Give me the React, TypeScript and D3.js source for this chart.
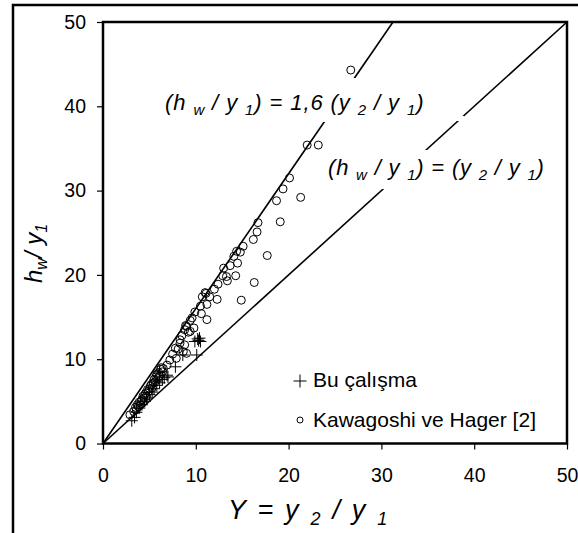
import React, { useEffect, useRef } from "react";
import * as d3 from "d3";

// Bu çalışma (plus markers)
const buCalisma: [number, number][] = [
  [3.1, 2.7], [3.4, 3.1], [3.6, 3.7], [3.9, 4.2], [4.2, 4.6], [4.5, 5.0],
  [4.7, 5.4], [5.0, 5.8], [5.3, 6.1], [5.5, 6.5], [5.8, 6.9], [6.1, 7.2],
  [6.4, 7.6], [6.1, 8.5], [6.9, 8.1], [7.0, 7.9], [7.8, 9.1], [10.1, 10.5],
  [10.3, 12.2], [10.5, 12.1], [10.4, 12.5], [10.2, 12.4], [9.9, 12.1],
  [8.6, 10.5], [5.7, 7.4], [6.6, 7.8]
];

// Kawagoshi ve Hager [2] (circle markers)
const kawagoshi: [number, number][] = [
  [26.7, 44.3], [22.0, 35.4], [23.2, 35.4], [20.1, 31.5], [19.4, 30.2],
  [18.7, 28.8], [21.3, 29.2], [16.7, 26.2], [19.1, 26.3], [16.6, 25.1],
  [16.2, 24.2], [15.1, 23.4], [14.4, 22.8], [14.8, 22.7], [14.1, 22.2],
  [17.7, 22.3], [14.5, 21.4], [13.7, 21.1], [13.0, 20.8], [14.3, 19.9],
  [13.3, 19.8], [13.4, 19.3], [16.3, 19.1], [12.4, 18.9], [12.0, 18.3],
  [14.9, 17.0], [10.7, 17.4], [11.1, 17.8], [11.5, 17.4], [12.3, 17.1],
  [11.2, 16.5], [10.5, 16.3], [9.9, 15.6], [10.6, 15.4], [11.2, 14.7],
  [9.6, 14.9], [8.9, 14.0], [9.8, 13.7], [9.2, 13.2], [8.5, 12.8],
  [8.3, 11.9], [7.8, 11.3], [8.1, 11.2], [7.5, 10.6], [8.65, 10.9],
  [7.9, 10.1], [7.2, 9.9], [6.9, 9.3], [6.5, 8.9], [8.8, 11.7],
  [9.0, 10.7], [9.4, 13.3], [9.4, 14.6], [9.0, 13.9], [8.8, 13.5],
  [12.9, 19.9], [11.0, 17.9], [8.3, 12.3],
  [2.9, 3.4], [3.3, 3.8], [3.5, 4.3], [3.7, 4.6], [3.9, 4.9], [4.0, 4.6],
  [4.2, 5.2], [4.3, 5.6], [4.5, 5.8], [4.6, 6.0], [4.8, 6.4], [4.9, 6.2],
  [5.1, 6.8], [5.2, 7.0], [5.4, 7.2], [5.5, 7.6], [5.7, 7.9], [5.8, 8.2],
  [6.0, 8.4], [6.2, 8.8], [6.3, 9.0], [4.1, 5.0], [4.4, 5.4], [4.7, 5.6],
  [5.0, 6.5], [5.3, 6.6], [5.6, 7.3], [5.9, 7.7], [6.1, 8.0], [6.4, 8.5],
  [3.6, 4.0], [3.8, 4.4]
];

const tickValues = [0, 10, 20, 30, 40, 50];
const slopes = [1.6, 1];

const FONT = "'Liberation Sans', Arial, sans-serif";

type Seg = { t: string; sub?: boolean };

function richText(sel: any, segs: Seg[], size: number, subSize: number) {
  let down = false;
  segs.forEach((s) => {
    const ts = sel.append("tspan").text(s.t);
    if (s.sub && !down) {
      ts.attr("dy", size * 0.22).attr("font-size", subSize);
      down = true;
    } else if (s.sub) {
      ts.attr("font-size", subSize);
    } else if (!s.sub && down) {
      ts.attr("dy", -size * 0.22);
      down = false;
    }
  });
}

export default function App() {
  const ref = useRef<SVGSVGElement>(null);

  useEffect(() => {
    document.body.style.margin = "0";
    const svg = d3.select(ref.current);
    svg.selectAll("*").remove();

    const left = 103, right = 567, top = 22, bottom = 443.5;
    const x = d3.scaleLinear().domain([0, 50]).range([left, right]);
    const y = d3.scaleLinear().domain([0, 50]).range([bottom, top]);

    svg.append("rect").attr("width", 578).attr("height", 533).attr("fill", "#fff");

    // outer frame (right and bottom fall outside the picture)
    svg.append("path")
      .attr("d", "M13,533 L13,5 L578,5")
      .attr("fill", "none")
      .attr("stroke", "#000")
      .attr("stroke-width", 2.5);

    // reference lines
    const g = svg.append("g");
    slopes.forEach((k) => {
      const xEnd = Math.min(50, 50 / k);
      g.append("line")
        .attr("x1", x(0)).attr("y1", y(0))
        .attr("x2", x(xEnd)).attr("y2", y(xEnd * k))
        .attr("stroke", "#000")
        .attr("stroke-width", 1.6);
    });

    // white boxes behind the equations break the lines
    g.append("rect").attr("x", 160).attr("y", 78).attr("width", 270).attr("height", 44).attr("fill", "#fff");
    g.append("rect").attr("x", 320).attr("y", 150).attr("width", 232).attr("height", 39).attr("fill", "#fff");
    g.append("rect").attr("x", 456).attr("y", 116).attr("width", 8).attr("height", 5).attr("fill", "#fff");

    const eq1 = g.append("text")
      .attr("x", 165).attr("y", 110).attr("letter-spacing", 0.9)
      .attr("font-family", FONT).attr("font-size", 22).attr("font-style", "italic");
    richText(eq1, [
      { t: "(h " }, { t: "w", sub: true }, { t: " / y " }, { t: "1", sub: true },
      { t: ") = 1,6 (y " }, { t: "2", sub: true }, { t: " / y " }, { t: "1", sub: true }, { t: ")" }
    ], 22, 15);

    const eq2 = g.append("text")
      .attr("x", 328).attr("y", 175).attr("letter-spacing", 0.8)
      .attr("font-family", FONT).attr("font-size", 22).attr("font-style", "italic");
    richText(eq2, [
      { t: "(h " }, { t: "w", sub: true }, { t: " / y " }, { t: "1", sub: true },
      { t: ") = (y " }, { t: "2", sub: true }, { t: " / y " }, { t: "1", sub: true }, { t: ")" }
    ], 22, 15);

    // points
    g.selectAll("circle.k")
      .data(kawagoshi)
      .enter()
      .append("circle")
      .attr("cx", (d) => x(d[0]))
      .attr("cy", (d) => y(d[1]))
      .attr("r", 4)
      .attr("fill", "none")
      .attr("stroke", "#000")
      .attr("stroke-width", 1);

    g.selectAll("path.p")
      .data(buCalisma)
      .enter()
      .append("path")
      .attr("d", "M-6,0H6M0,-6V6")
      .attr("transform", (d) => "translate(" + x(d[0]) + "," + y(d[1]) + ")")
      .attr("stroke", "#000")
      .attr("stroke-width", 1);

    // axes
    const yAxis = d3.axisLeft(y).tickValues(tickValues).tickSize(6).tickPadding(11).tickFormat(d3.format("d"));
    const xAxis = d3.axisBottom(x).tickValues(tickValues).tickSize(6).tickPadding(18.5).tickFormat(d3.format("d"));

    const ya = svg.append("g").attr("transform", "translate(" + left + ",0)").call(yAxis);
    const xa = svg.append("g").attr("transform", "translate(0," + bottom + ")").call(xAxis);
    [ya, xa].forEach((a) => {
      a.select(".domain").remove();
      a.selectAll("line").attr("stroke", "#000").attr("stroke-width", 1.2);
      a.selectAll("text").attr("font-family", FONT).attr("font-size", 19.5).attr("fill", "#000");
    });

    // plot frame
    svg.append("rect")
      .attr("x", left).attr("y", top)
      .attr("width", right - left).attr("height", bottom - top)
      .attr("fill", "none")
      .attr("stroke", "#000")
      .attr("stroke-width", 2.5);

    // legend
    const lg = svg.append("g").attr("font-family", FONT).attr("font-size", 21);
    lg.append("path")
      .attr("d", "M-6.5,0H6.5M0,-6.5V6.5")
      .attr("transform", "translate(300,381)")
      .attr("stroke", "#000").attr("stroke-width", 1);
    lg.append("text").attr("x", 313).attr("y", 387).text("Bu çalışma");
    lg.append("circle").attr("cx", 300).attr("cy", 420).attr("r", 3)
      .attr("fill", "none").attr("stroke", "#000").attr("stroke-width", 1);
    lg.append("text").attr("x", 313).attr("y", 427).text("Kawagoshi ve Hager [2]");

    // axis titles
    const xt = svg.append("text")
      .attr("x", 228).attr("y", 519).attr("letter-spacing", 2.2)
      .attr("font-family", FONT).attr("font-size", 27).attr("font-style", "italic");
    richText(xt, [{ t: "Y = y " }, { t: "2", sub: true }, { t: " / y " }, { t: "1", sub: true }], 27, 18);

    const yt = svg.append("text")
      .attr("transform", "translate(42,283) rotate(-90)")
      .attr("font-family", FONT).attr("font-size", 24).attr("font-style", "italic");
    richText(yt, [{ t: "h" }, { t: "w", sub: true }, { t: "/ y" }, { t: "1", sub: true }], 24, 16);
  }, []);

  return (
    <div>
      <svg ref={ref} width={578} height={533} style={{ display: "block" }} />
    </div>
  );
}
